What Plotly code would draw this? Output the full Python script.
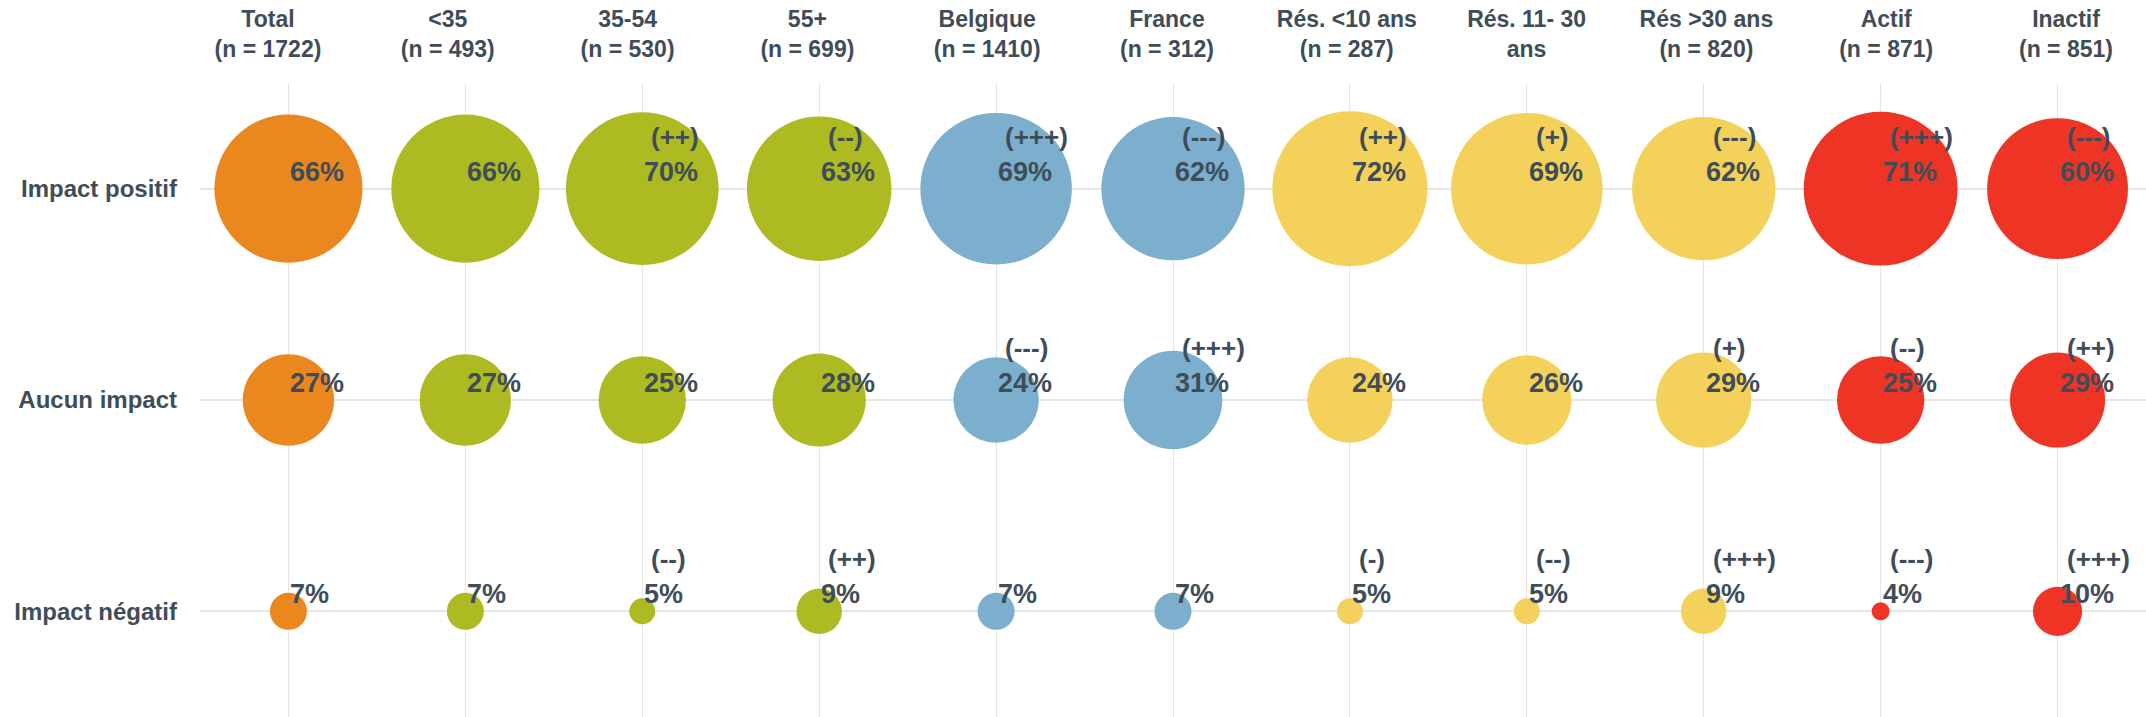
import plotly.graph_objects as go

# ---- data ----
column_labels = [
    "Total<br>(n = 1722)", "<35<br>(n = 493)", "35-54<br>(n = 530)", "55+<br>(n = 699)",
    "Belgique<br>(n = 1410)", "France<br>(n = 312)", "Rés. <10 ans<br>(n = 287)",
    "Rés. 11- 30<br>ans", "Rés >30 ans<br>(n = 820)", "Actif<br>(n = 871)", "Inactif<br>(n = 851)",
]
row_labels = ["Impact positif", "Aucun impact", "Impact négatif"]

impact_positif = [66, 66, 70, 63, 69, 62, 72, 69, 62, 71, 60]
aucun_impact = [27, 27, 25, 28, 24, 31, 24, 26, 29, 25, 29]
impact_negatif = [7, 7, 5, 9, 7, 7, 5, 5, 9, 4, 10]

sig_positif = ["", "", "(++)", "(--)", "(+++)", "(---)", "(++)", "(+)", "(---)", "(+++)", "(---)"]
sig_aucun = ["", "", "", "", "(---)", "(+++)", "", "", "(+)", "(--)", "(++)"]
sig_negatif = ["", "", "(--)", "(++)", "", "", "(-)", "(--)", "(+++)", "(---)", "(+++)"]

group_colors = ["#EA871E", "#AEBA21", "#AEBA21", "#AEBA21", "#7BAFCD", "#7BAFCD",
                "#F4D15B", "#F4D15B", "#F4D15B", "#EE3424", "#EE3424"]

# ---- styling ----
TEXT = "#3F4D58"
FONT = "Liberation Sans"
GRID = "#E6E6E6"

# bubble area grows linearly between smallest and largest value
V_MIN, V_MAX = 4, 72
D_MIN, D_MAX = 18, 155


def diameter(v):
    t = (v - V_MIN) / (V_MAX - V_MIN)
    return (D_MIN ** 2 + t * (D_MAX ** 2 - D_MIN ** 2)) ** 0.5


rows = [impact_positif, aucun_impact, impact_negatif]
sigs = [sig_positif, sig_aucun, sig_negatif]
n_rows = len(rows)
cols = list(range(len(column_labels)))

fig = go.Figure()
annotations = []
for r, (vals, sg) in enumerate(zip(rows, sigs)):
    yv = n_rows - 1 - r
    fig.add_trace(go.Scatter(
        x=cols, y=[yv] * len(cols), mode="markers",
        marker=dict(size=[diameter(v) for v in vals], sizemode="diameter",
                    color=group_colors, opacity=1, line=dict(width=0)),
        showlegend=False, hoverinfo="skip",
    ))
    for c, (v, s) in enumerate(zip(vals, sg)):
        annotations.append(dict(
            x=c, y=yv, xref="x", yref="y", text=f"{v}%", showarrow=False,
            xanchor="left", yanchor="middle", xshift=0, yshift=17,
            font=dict(family=FONT, size=27, color=TEXT, weight="bold"),
        ))
        if s:
            annotations.append(dict(
                x=c, y=yv, xref="x", yref="y", text=s, showarrow=False,
                xanchor="left", yanchor="middle", xshift=7, yshift=52,
                font=dict(family=FONT, size=26, color=TEXT, weight="bold"),
            ))

# invisible trace to carry the header axis
fig.add_trace(go.Scatter(x=cols, y=[None] * len(cols), xaxis="x2", mode="markers",
                         showlegend=False, hoverinfo="skip"))

fig.update_layout(
    width=2146, height=717,
    margin=dict(l=200, r=0, t=83, b=0),
    paper_bgcolor="white", plot_bgcolor="white",
    annotations=annotations,
    xaxis=dict(range=[-0.5, 10.5], tickvals=cols, showticklabels=False,
               showgrid=True, gridcolor=GRID, gridwidth=1, zeroline=False,
               showline=False, ticks="", automargin=False),
    xaxis2=dict(overlaying="x", side="top", range=[-0.378, 10.445], tickvals=cols,
                ticktext=column_labels, showgrid=False, zeroline=False, showline=False,
                ticks="", ticklabelstandoff=20, automargin=False,
                tickfont=dict(family=FONT, size=23, color=TEXT, weight="bold")),
    yaxis=dict(range=[-0.5, 2.5], tickvals=[2, 1, 0], ticktext=row_labels,
               showgrid=True, gridcolor=GRID, gridwidth=2, zeroline=False,
               showline=False, ticks="", ticklabelstandoff=22, automargin=False,
               tickfont=dict(family=FONT, size=24, color=TEXT, weight="bold")),
)

fig.write_html("out.html", config={"displayModeBar": False},
               post_script="document.body.style.margin='0';")
